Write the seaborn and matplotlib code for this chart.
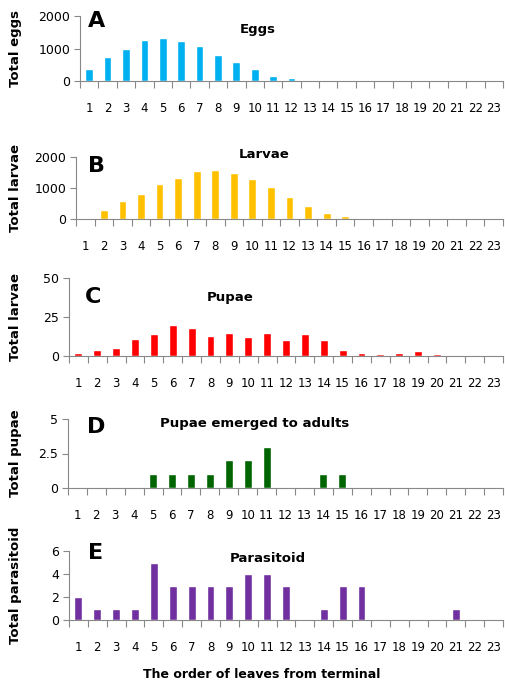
import pandas as pd
import matplotlib
matplotlib.use("Agg")
import matplotlib.pyplot as plt
import seaborn as sns

sns.set_theme(style="white")
plt.rcParams['font.family'] = ['DejaVu Sans']
plt.rcParams['text.color'] = 'black'
plt.rcParams['xtick.color'] = 'black'
plt.rcParams['ytick.color'] = 'black'

# leaf order from terminal
leaves = [str(i) for i in range(1, 24)]

eggs = [370, 735, 980, 1255, 1315, 1235, 1070, 800, 600, 370, 165, 80, 30,
        0, 0, 0, 0, 0, 0, 0, 0, 0, 0]
larvae = [0, 300, 570, 805, 1115, 1330, 1545, 1590, 1480, 1290, 1040, 710, 430,
          205, 95, 40, 0, 0, 0, 0, 0, 0, 0]
pupae = [2, 4, 5, 11, 14, 20, 18, 13, 15, 12, 15, 10, 14, 10, 4, 2, 1, 2, 3, 1,
         0, 0, 0]
emerged = [0, 0, 0, 0, 1, 1, 1, 1, 2, 2, 3, 0, 0, 1, 1, 0, 0, 0, 0, 0, 0, 0, 0]
parasitoid = [2, 1, 1, 1, 5, 3, 3, 3, 3, 4, 4, 3, 0, 1, 3, 3, 0, 0, 0, 0, 1, 0, 0]

W, H = 505, 685

panels = [
    # values, color, ylabel, title, letter, yticks, ticklabels, (left, top, bottom) px, title xy, letter xy
    (eggs, '#00B0F0', 'Total eggs', 'Eggs', 'A', [0, 1000, 2000], ['0', '1000', '2000'],
     (80, 16, 81), (258, 29), (97, 21)),
    (larvae, '#FFC000', 'Total larvae', 'Larvae', 'B', [0, 1000, 2000], ['0', '1000', '2000'],
     (76, 157, 219), (264, 155), (97, 166)),
    (pupae, '#FF0000', 'Total larvae', 'Pupae', 'C', [0, 25, 50], ['0', '25', '50'],
     (69, 278, 356), (230, 297), (93, 297)),
    (emerged, '#006400', 'Total pupae', 'Pupae emerged to adults', 'D', [0, 2.5, 5], ['0', '2.5', '5'],
     (68, 419, 488), (255, 424), (96, 427)),
    (parasitoid, '#7030A0', 'Total parasitoid', 'Parasitoid', 'E', [0, 2, 4, 6], ['0', '2', '4', '6'],
     (69, 551, 620), (268, 558), (96, 553)),
]

fig = plt.figure(figsize=(W / 100, H / 100), dpi=100)

for vals, color, ylab, title, letter, yt, ytl, (left, top, bottom), (tx, ty), (lx, ly) in panels:
    ax = fig.add_axes([left / W, 1 - bottom / H, (503 - left) / W, (bottom - top) / H])
    df = pd.DataFrame({'leaf': leaves, 'value': vals})
    sns.barplot(data=df, x='leaf', y='value', color=color, width=0.42,
                saturation=1, ax=ax)
    ax.set_xlim(-0.5, 22.5)
    ax.set_ylim(yt[0], yt[-1])
    ax.set_yticks(yt)
    ax.set_yticklabels(ytl, fontsize=9)
    ax.set_xticks(range(23))
    ax.set_xticklabels(leaves, fontsize=8.5)
    ax.set_xticks([i - 0.5 for i in range(24)], minor=True)
    ax.tick_params(axis='x', which='major', bottom=True, length=0, pad=15)
    ax.tick_params(axis='x', which='minor', bottom=True, length=5,
                   color='#888888', width=0.8)
    ax.tick_params(axis='y', left=True, length=4, color='#888888', width=0.8,
                   pad=3)
    for s in ['top', 'right']:
        ax.spines[s].set_visible(False)
    for s in ['left', 'bottom']:
        ax.spines[s].set_color('#888888')
        ax.spines[s].set_linewidth(0.8)
    ax.set_xlabel('')
    ax.set_ylabel('')
    fig.text(16 / W, 1 - ((top + bottom) / 2) / H, ylab, rotation=90, fontsize=9.5,
             fontweight='bold', ha='center', va='center')
    fig.text(tx / W, 1 - ty / H, title, fontsize=9.5, fontweight='bold',
             ha='center', va='center')
    fig.text(lx / W, 1 - ly / H, letter, fontsize=16, fontweight='bold',
             ha='center', va='center')

fig.text(262 / W, 1 - 675 / H, 'The order of leaves from terminal', fontsize=9,
         fontweight='bold', ha='center', va='center')

fig.savefig('out.png', dpi=100)
